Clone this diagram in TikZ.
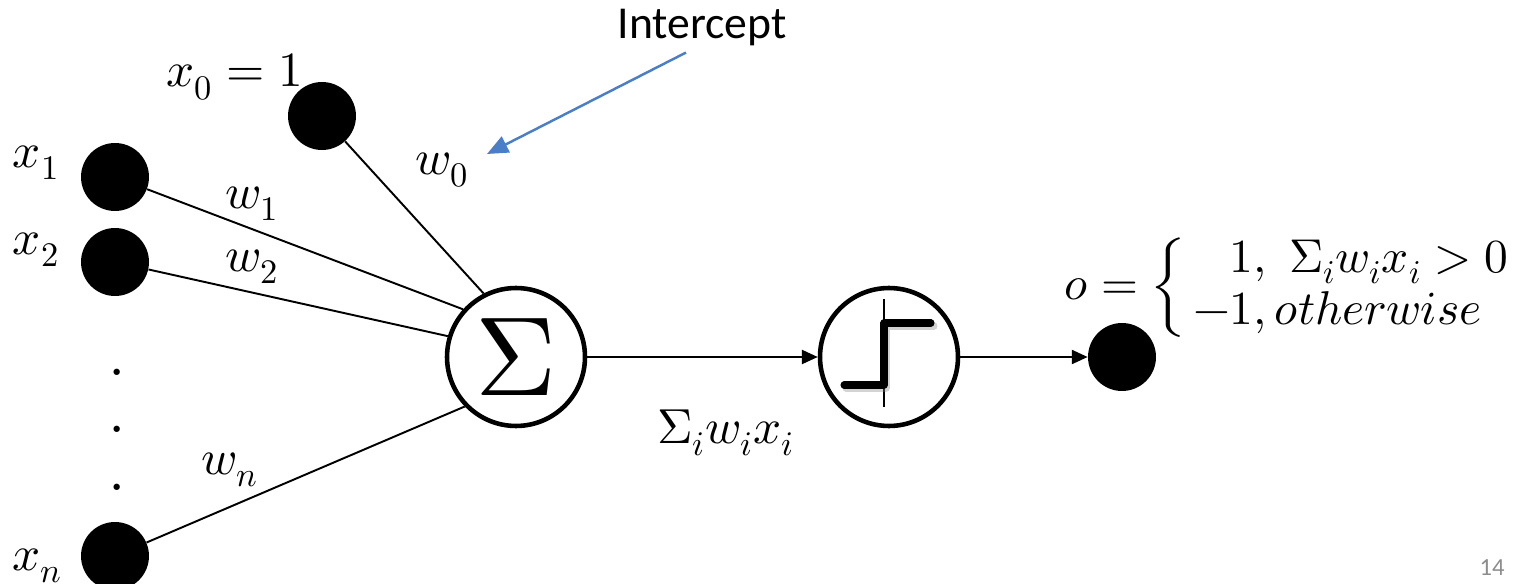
\documentclass[tikz,border=0pt]{standalone}
\usepackage{fontspec}
\usepackage{unicode-math}
\newfontfamily\calibri{Carlito}
\usetikzlibrary{arrows.meta}
\definecolor{callout}{RGB}{74,126,198}
\definecolor{pagegray}{RGB}{140,140,140}
\tikzset{
  inp/.style={circle,fill=black,minimum size=1.36cm,inner sep=0pt},
  unit/.style={circle,draw,line width=2.6pt,minimum size=2.76cm,inner sep=0pt},
  lbl/.style={font=\fontsize{28}{30}\selectfont},
  dotlbl/.style={font=\fontsize{44}{44}\selectfont,inner sep=0pt},
  wire/.style={line width=1.1pt},
  feed/.style={line width=1.1pt,-{Triangle[length=9pt,width=8pt]}},
}

\begin{document}
\begin{tikzpicture}[x=0.02cm,y=-0.02cm]
    \useasboundingbox (0,0) rectangle (1521,584);

    % input units
    \node[inp] (x0) at (322,116) {};
    \node[inp] (x1) at (115,177) {};
    \node[inp] (x2) at (115,262) {};
    \node[inp] (xn) at (115,556) {};
    \node[lbl] (x0lbl) at (235,77) {$x_0 = 1$};
    \node[lbl] (x1lbl) at (36,163) {$x_1$};
    \node[lbl] (x2lbl) at (36,250) {$x_2$};
    \node[lbl] (xnlbl) at (37,566) {$x_n$};
    \node[dotlbl] (dot1) at (117,372) {.};
    \node[dotlbl] (dot2) at (117,429) {.};
    \node[dotlbl] (dot3) at (117,487) {.};

    % summation and step units
    \node[unit] (sum) at (516,357) {\fontsize{64}{64}\selectfont$\Sigma$};
    \node[unit] (step) at (889,357) {};
    \node[inp] (out) at (1122,357) {};

    % weights
    \node[lbl] (w0) at (442,170) {$w_0$};
    \node[lbl] (w1) at (252,204) {$w_1$};
    \node[lbl] (w2) at (252,267) {$w_2$};
    \node[lbl] (wn) at (230,470) {$w_n$};
    \node[lbl] (net) at (726,433) {$\Sigma_i w_i x_i$};

    \draw[wire] (x0) -- (sum.117);
    \draw[wire] (x1) -- (sum.138);
    \draw[wire] (x2) -- (sum.163);
    \draw[wire] (xn) -- (sum.224);
    \draw[feed] (sum) -- (step);
    \draw[feed] (step) -- (out);

    % step function
    \begin{scope}[shift={(step)}]
        \draw[line width=0.8pt] (-5,-58) -- (-5,50);
        \draw[line width=4pt,line cap=round,line join=round,gray,opacity=0.35]
            (-43,31) -- (-3,31) -- (-3,-31) -- (45,-31);
        \draw[line width=4pt,line cap=round,line join=round]
            (-45,28) -- (-5,28) -- (-5,-34) -- (42,-34);
    \end{scope}

    % output rule
    \node[font=\fontsize{27}{30}\selectfont] (rule) at (1292,288)
        {$o = \left\{\begin{array}{@{\,}l}
            \phantom{-}1,\ \Sigma_i w_i x_i > 0\\
            -1, otherwise
        \end{array}\right.$};

    % callout
    \node[font=\calibri\fontsize{26}{30}\selectfont] (icpt) at (702,28) {Intercept};
    \coordinate (w0tip) at (487,154);
    \draw[callout,line width=1.4pt,-{Triangle[length=12pt,width=10pt]}]
        ([xshift=-0.32cm]icpt.south) -- (w0tip);

    \node[font=\calibri\fontsize{14}{16}\selectfont,pagegray] (page) at (1492,568) {14};
\end{tikzpicture}
\end{document}
